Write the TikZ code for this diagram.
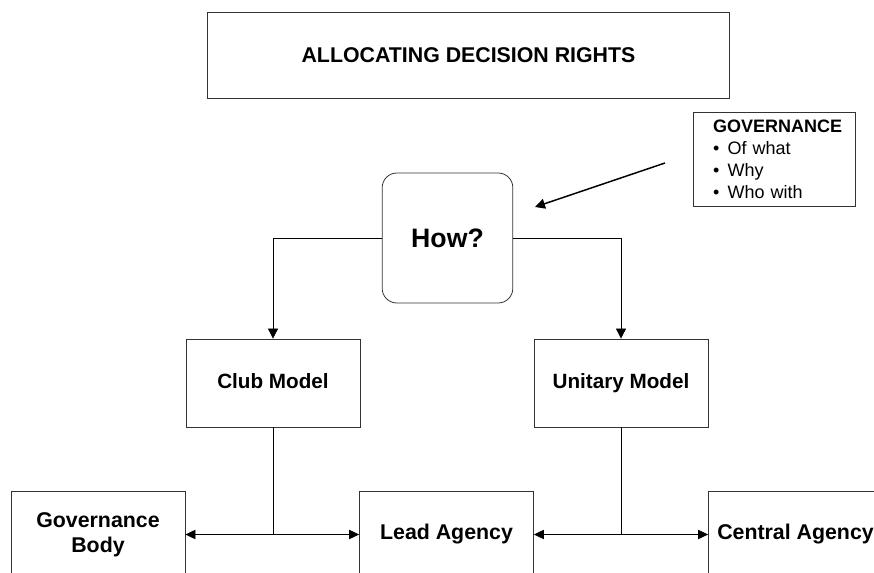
\documentclass[tikz,border=0pt]{standalone}
\usepackage{fontspec}
\setmainfont{Liberation Sans}
\usetikzlibrary{arrows.meta}

\begin{document}
\begin{tikzpicture}[
    x=0.75pt, y=-0.75pt,
    box/.style={rectangle, draw=black!80, line width=0.6pt, minimum width=130.5pt, minimum height=66pt, align=center, font=\fontsize{15.5}{18.5}\selectfont\bfseries},
    modelbox/.style={box, text height=11pt, text depth=3.5pt},
    lowbox/.style={box, minimum height=65pt, font=\fontsize{16}{19}\selectfont\bfseries},
    titlebox/.style={box, minimum width=392pt, minimum height=64.5pt, font=\fontsize{16}{19}\selectfont\bfseries},
    howbox/.style={box, rounded corners=11pt, minimum width=98pt, minimum height=97.5pt, font=\fontsize{20}{24}\selectfont\bfseries},
    notebox/.style={rectangle, draw=black!80, line width=0.6pt, text width=91.5pt, inner xsep=15pt, minimum height=71pt, align=left, font=\fontsize{13.5}{16.5}\selectfont},
    line/.style={line width=0.6pt, color=black},
    arrow/.style={line, -{Triangle[length=7.5pt, width=7.5pt]}},
    dblarrow/.style={line, {Triangle[length=7.5pt, width=7pt]}-{Triangle[length=7.5pt, width=7pt]}}
]
\useasboundingbox (0,0) rectangle (874,573);

% Title
\node[titlebox] (title) at (468.5,55) {ALLOCATING DECISION RIGHTS};

% Governance note
\node[notebox] (note) at (774,159.5) {
    \textbf{GOVERNANCE}\\
    \makebox[11pt][l]{•}Of what\\
    \makebox[11pt][l]{•}Why\\
    \makebox[11pt][l]{•}Who with
};
\coordinate (notetail) at (665,163);
\coordinate (notehead) at (535,207);

% Question
\node[howbox] (how) at (447.5,238) {How?};

% Models
\node[modelbox] (club) at (273,383) {Club Model};
\node[modelbox] (unitary) at (621,383) {Unitary Model};

% Bodies
\node[lowbox] (gbody) at (98,534.5) {Governance\\Body};
\node[lowbox, text height=11.5pt, text depth=3.5pt] (lead) at (446.5,534.5) {Lead Agency};
\node[lowbox, text height=11.5pt, text depth=3.5pt] (central) at (795.5,534.5) {Central Agency};

% Arrows
\draw[arrow, line width=1.1pt] (notetail) -- (notehead);
\draw[arrow] (how.west) -| (club.north);
\draw[arrow] (how.east) -| (unitary.north);
\draw[line] (club.south) -- (club.south |- gbody.east);
\draw[dblarrow] (gbody.east) -- (lead.west);
\draw[line] (unitary.south) -- (unitary.south |- lead.east);
\draw[dblarrow] (lead.east) -- (central.west);

\end{tikzpicture}
\end{document}
